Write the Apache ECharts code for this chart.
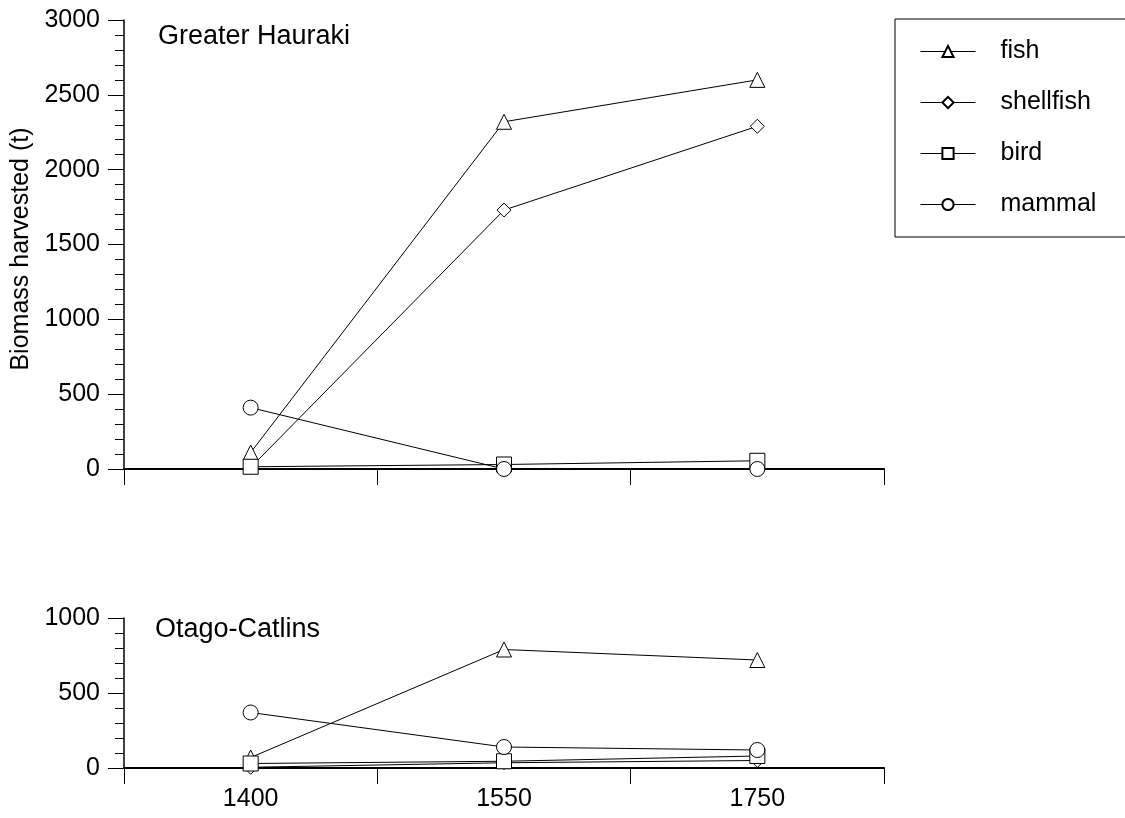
<!DOCTYPE html>
<html>
<head>
<meta charset="utf-8">
<script src="https://cdn.jsdelivr.net/npm/echarts@6/dist/echarts.min.js"></script>
<style>
  html, body { margin: 0; padding: 0; background: #fff; }
  #main { width: 1125px; height: 818px; }
</style>
</head>
<body>
<div id="main"></div>
<script>
var years = ['1400', '1550', '1750'];
var seriesNames = ['fish', 'shellfish', 'bird', 'mammal'];
var symbols = ['triangle', 'diamond', 'rect', 'circle'];

// Greater Hauraki (t)
var haurakiFish = [110, 2320, 2600];
var haurakiShellfish = [10, 1730, 2290];
var haurakiBird = [15, 30, 55];
var haurakiMammal = [410, 0, 0];

// Otago-Catlins (t)
var otagoFish = [70, 790, 720];
var otagoShellfish = [5, 35, 50];
var otagoBird = [30, 45, 80];
var otagoMammal = [370, 140, 120];

var font = 'Liberation Sans, Arial, Helvetica, sans-serif';
var chart = echarts.init(document.getElementById('main'));

function xAx(idx, showLabel) {
    return {
        type: 'category', gridIndex: idx, data: years, boundaryGap: true,
        axisLine: { lineStyle: { color: '#000', width: 2 } },
        axisTick: { show: true, alignWithLabel: false, length: 16, lineStyle: { color: '#000', width: 1 } },
        axisLabel: { show: showLabel, color: '#000', fontSize: 25, fontFamily: font, margin: 19 },
        splitLine: { show: false }
    };
}
function yAx(idx, max) {
    return {
        type: 'value', gridIndex: idx, min: 0, max: max, interval: 500,
        axisLine: { show: true, lineStyle: { color: '#000', width: 1.5 } },
        axisTick: { show: true, length: 16, lineStyle: { color: '#000', width: 1 } },
        minorTick: { show: true, splitNumber: 5, length: 9, lineStyle: { color: '#000', width: 1 } },
        axisLabel: { color: '#000', fontSize: 25, fontFamily: font, margin: 24,
            formatter: function (v) { return String(v); } },
        splitLine: { show: false }
    };
}
function line(name, idx, data, sym) {
    return {
        name: name, type: 'line', xAxisIndex: idx, yAxisIndex: idx, data: data,
        symbol: sym, symbolSize: sym === 'diamond' ? 14 : 15, showAllSymbol: true,
        lineStyle: { color: '#000', width: 1 },
        itemStyle: { color: '#fff', borderColor: '#000', borderWidth: 1 },
        emphasis: { disabled: true },
        animation: false
    };
}

var topData = [haurakiFish, haurakiShellfish, haurakiBird, haurakiMammal];
var botData = [otagoFish, otagoShellfish, otagoBird, otagoMammal];
var series = [];
for (var i = 0; i < 4; i++) series.push(line(seriesNames[i], 0, topData[i], symbols[i]));
for (var j = 0; j < 4; j++) series.push(line(seriesNames[j], 1, botData[j], symbols[j]));

var option = {
    backgroundColor: '#fff',
    animation: false,
    legend: {
        data: seriesNames, orient: 'vertical', left: 895, top: 19,
        padding: [20, 200, 20, 25], itemGap: 26, itemWidth: 55, itemHeight: 14,
        borderColor: '#000', borderWidth: 1,
        lineStyle: { width: 1, color: '#000' },
        textStyle: { color: '#000', fontSize: 25, fontFamily: font, padding: [0, 0, 0, 20] },
        selectedMode: false
    },
    grid: [
        { left: 124, top: 20, width: 760, height: 449 },
        { left: 124, top: 618, width: 760, height: 150 }
    ],
    xAxis: [xAx(0, false), xAx(1, true)],
    yAxis: [yAx(0, 3000), yAx(1, 1000)],
    graphic: [
        { type: 'text', x: 21, y: 249, rotation: Math.PI / 2,
          style: { text: 'Biomass harvested (t)', fill: '#000', fontSize: 25, fontFamily: font, textAlign: 'center', textVerticalAlign: 'middle' } },
        { type: 'text', x: 158, y: 37,
          style: { text: 'Greater Hauraki', fill: '#000', fontSize: 27, fontFamily: font, textAlign: 'left', textVerticalAlign: 'middle' } },
        { type: 'text', x: 155, y: 630,
          style: { text: 'Otago-Catlins', fill: '#000', fontSize: 27, fontFamily: font, textAlign: 'left', textVerticalAlign: 'middle' } }
    ],
    series: series
};
chart.setOption(option);
</script>
</body>
</html>
